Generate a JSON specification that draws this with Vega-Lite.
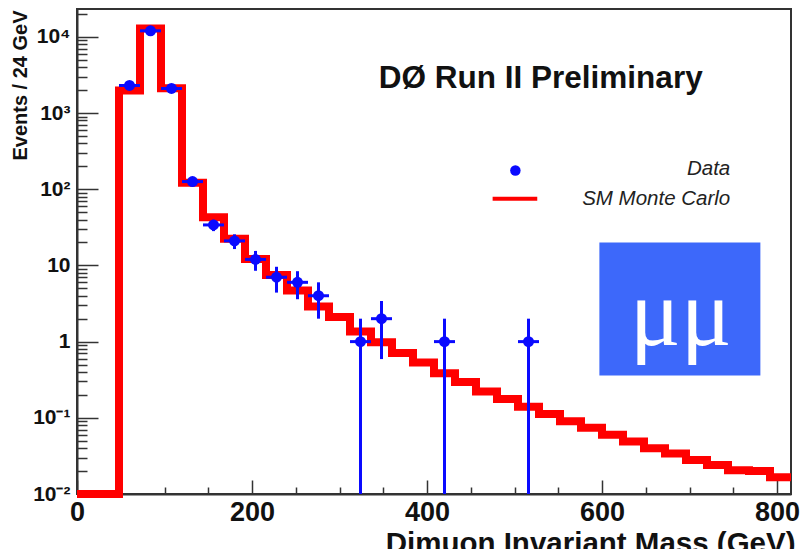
{
  "$schema": "https://vega.github.io/schema/vega-lite/v6.json",
  "width": 714,
  "height": 485,
  "autosize": {"type": "none"},
  "padding": {"left": 77, "top": 9, "right": 11, "bottom": 55},
  "background": "white",
  "config": {"view": {"stroke": "#333", "strokeWidth": 2}, "font": "Liberation Sans"},
  "datasets": {
    "mc": [
      {"m": 0, "n": 0.01}, {"m": 48, "n": 1980}, {"m": 72, "n": 12900}, {"m": 96, "n": 2110},
      {"m": 120, "n": 122}, {"m": 144, "n": 43}, {"m": 168, "n": 22.4}, {"m": 192, "n": 12.1},
      {"m": 216, "n": 7.5}, {"m": 240, "n": 4.7}, {"m": 264, "n": 2.9}, {"m": 288, "n": 2.1},
      {"m": 312, "n": 1.36}, {"m": 336, "n": 0.98}, {"m": 360, "n": 0.71}, {"m": 384, "n": 0.53},
      {"m": 408, "n": 0.385}, {"m": 432, "n": 0.295}, {"m": 456, "n": 0.222}, {"m": 480, "n": 0.176},
      {"m": 504, "n": 0.14}, {"m": 528, "n": 0.112}, {"m": 552, "n": 0.09}, {"m": 576, "n": 0.074},
      {"m": 600, "n": 0.06}, {"m": 624, "n": 0.049}, {"m": 648, "n": 0.04}, {"m": 672, "n": 0.034},
      {"m": 696, "n": 0.028}, {"m": 720, "n": 0.024}, {"m": 744, "n": 0.0205}, {"m": 768, "n": 0.02},
      {"m": 792, "n": 0.0166}, {"m": 816, "n": 0.0166}
    ],
    "obs": [
      {"m": 60, "bin_lo": 48, "bin_hi": 72, "n": 2300, "lo": 2252, "hi": 2348},
      {"m": 84, "bin_lo": 72, "bin_hi": 96, "n": 12000, "lo": 11890, "hi": 12110},
      {"m": 108, "bin_lo": 96, "bin_hi": 120, "n": 2100, "lo": 2054, "hi": 2146},
      {"m": 132, "bin_lo": 120, "bin_hi": 144, "n": 126, "lo": 114.8, "hi": 137.2},
      {"m": 156, "bin_lo": 144, "bin_hi": 168, "n": 34, "lo": 28.2, "hi": 39.8},
      {"m": 180, "bin_lo": 168, "bin_hi": 192, "n": 21, "lo": 16.4, "hi": 25.6},
      {"m": 204, "bin_lo": 192, "bin_hi": 216, "n": 12, "lo": 8.5, "hi": 15.5},
      {"m": 228, "bin_lo": 216, "bin_hi": 240, "n": 7, "lo": 4.4, "hi": 9.6},
      {"m": 252, "bin_lo": 240, "bin_hi": 264, "n": 6, "lo": 3.6, "hi": 8.4},
      {"m": 276, "bin_lo": 264, "bin_hi": 288, "n": 4, "lo": 2, "hi": 6},
      {"m": 324, "bin_lo": 312, "bin_hi": 336, "n": 1, "lo": 0.01, "hi": 2},
      {"m": 348, "bin_lo": 336, "bin_hi": 360, "n": 2, "lo": 0.59, "hi": 3.41},
      {"m": 420, "bin_lo": 408, "bin_hi": 432, "n": 1, "lo": 0.01, "hi": 2},
      {"m": 516, "bin_lo": 504, "bin_hi": 528, "n": 1, "lo": 0.01, "hi": 2}
    ]
  },
  "layer": [
    {
      "data": {"name": "mc"},
      "mark": {"type": "line", "interpolate": "step-after", "color": "#ff0000", "strokeWidth": 8, "strokeJoin": "miter"},
      "encoding": {
        "x": {
          "field": "m", "type": "quantitative",
          "scale": {"domain": [0, 816], "nice": false, "zero": false},
          "axis": {
            "values": [0, 50, 100, 150, 200, 250, 300, 350, 400, 450, 500, 550, 600, 650, 700, 750, 800],
            "labelExpr": "datum.value % 200 == 0 ? datum.label : ''",
            "format": "d",
            "labelFontSize": 27, "labelFontWeight": "bold", "labelColor": "#111",
            "labelPadding": 19, "labelFlush": false, "labelOverlap": false, "labelBound": false,
            "tickSize": {"condition": {"test": "datum.value % 200 == 0", "value": -14}, "value": -7},
            "tickColor": "#333", "tickWidth": 1.5,
            "domainColor": "#333", "domainWidth": 2, "grid": false,
            "title": "Dimuon Invariant Mass (GeV)",
            "titleFontSize": 29.5, "titleFontWeight": "bold", "titleColor": "#111",
            "titleAnchor": "end", "titleAlign": "right", "titleBaseline": "alphabetic",
            "titleX": 718, "titleY": 58
          }
        },
        "y": {
          "field": "n", "type": "quantitative",
          "scale": {"type": "log", "domain": [0.01, 23200], "nice": false},
          "axis": {
            "values": [0.01, 0.02, 0.03, 0.04, 0.05, 0.06, 0.07, 0.08, 0.09, 0.1, 0.2, 0.3, 0.4, 0.5, 0.6, 0.7, 0.8, 0.9, 1, 2, 3, 4, 5, 6, 7, 8, 9, 10, 20, 30, 40, 50, 60, 70, 80, 90, 100, 200, 300, 400, 500, 600, 700, 800, 900, 1000, 2000, 3000, 4000, 5000, 6000, 7000, 8000, 9000, 10000, 20000],
            "labelExpr": "datum.value == 10000 ? '10⁴' : datum.value == 1000 ? '10³' : datum.value == 100 ? '10²' : datum.value == 10 ? '10' : datum.value == 1 ? '1' : datum.value == 0.1 ? '10⁻¹' : datum.value == 0.01 ? '10⁻²' : ''",
            "labelFontSize": 21, "labelFontWeight": "bold", "labelColor": "#111",
            "labelPadding": 28, "labelOverlap": false, "labelBound": false, "labelBaseline": "middle",
            "tickSize": {"condition": {"test": "indexof([0.01, 0.1, 1, 10, 100, 1000, 10000], datum.value) >= 0", "value": -21}, "value": -10},
            "tickColor": "#333", "tickWidth": 1.5,
            "domainColor": "#333", "domainWidth": 2, "grid": false,
            "title": "Events / 24 GeV",
            "titleFontSize": 20, "titleFontWeight": "bold", "titleColor": "#111",
            "titleAngle": -90, "titleAlign": "right", "titleBaseline": "middle",
            "titleX": -57, "titleY": 1
          }
        }
      }
    },
    {
      "data": {"name": "obs"},
      "mark": {"type": "rule", "color": "#0a0aff", "strokeWidth": 3},
      "encoding": {
        "x": {"field": "m", "type": "quantitative"},
        "y": {"field": "lo", "type": "quantitative"},
        "y2": {"field": "hi"}
      }
    },
    {
      "data": {"name": "obs"},
      "mark": {"type": "rule", "color": "#0a0aff", "strokeWidth": 3},
      "encoding": {
        "x": {"field": "bin_lo", "type": "quantitative"},
        "x2": {"field": "bin_hi"},
        "y": {"field": "n", "type": "quantitative"}
      }
    },
    {
      "data": {"name": "obs"},
      "mark": {"type": "point", "shape": "circle", "filled": true, "color": "#0a0aff", "size": 120, "opacity": 1},
      "encoding": {
        "x": {"field": "m", "type": "quantitative"},
        "y": {"field": "n", "type": "quantitative"}
      }
    },
    {
      "data": {"values": [{}]},
      "mark": {"type": "rect", "color": "#3d68fa"},
      "encoding": {
        "x": {"datum": 597, "type": "quantitative"},
        "x2": {"datum": 781},
        "y": {"datum": 0.36, "type": "quantitative"},
        "y2": {"datum": 20}
      }
    },
    {
      "data": {"values": [{}]},
      "mark": {"type": "text", "text": "μμ", "font": "Liberation Serif", "fontSize": 95, "color": "white", "align": "center", "baseline": "alphabetic"},
      "encoding": {
        "x": {"datum": 690, "type": "quantitative"},
        "y": {"datum": 0.89, "type": "quantitative"}
      }
    },
    {
      "data": {"values": [{}]},
      "mark": {"type": "text", "text": "DØ Run II Preliminary", "fontSize": 31.5, "fontWeight": "bold", "color": "#111", "align": "center", "baseline": "alphabetic"},
      "encoding": {
        "x": {"datum": 530, "type": "quantitative"},
        "y": {"datum": 2133, "type": "quantitative"}
      }
    },
    {
      "data": {"values": [{}]},
      "mark": {"type": "point", "shape": "circle", "filled": true, "color": "#0a0aff", "size": 110, "opacity": 1},
      "encoding": {
        "x": {"datum": 501, "type": "quantitative"},
        "y": {"datum": 176, "type": "quantitative"}
      }
    },
    {
      "data": {"values": [{}]},
      "mark": {"type": "rule", "color": "#ff0000", "strokeWidth": 4},
      "encoding": {
        "x": {"datum": 475, "type": "quantitative"},
        "x2": {"datum": 526},
        "y": {"datum": 75, "type": "quantitative"}
      }
    },
    {
      "data": {"values": [{}]},
      "mark": {"type": "text", "text": "Data", "fontSize": 20.5, "fontStyle": "italic", "color": "#222", "align": "right", "baseline": "alphabetic"},
      "encoding": {
        "x": {"datum": 746.6, "type": "quantitative"},
        "y": {"datum": 154, "type": "quantitative"}
      }
    },
    {
      "data": {"values": [{}]},
      "mark": {"type": "text", "text": "SM Monte Carlo", "fontSize": 20.5, "fontStyle": "italic", "color": "#222", "align": "right", "baseline": "alphabetic"},
      "encoding": {
        "x": {"datum": 746.6, "type": "quantitative"},
        "y": {"datum": 62.5, "type": "quantitative"}
      }
    }
  ]
}
